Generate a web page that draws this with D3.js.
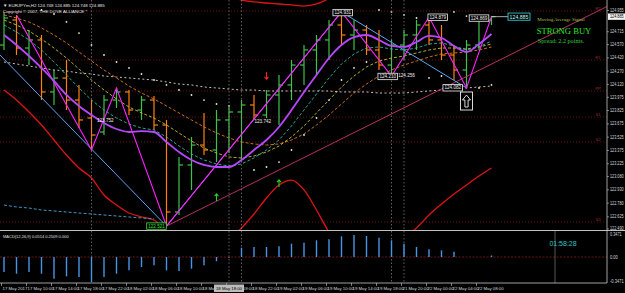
<!DOCTYPE html>
<meta charset="utf-8">
<style>

body {
  margin: 0;
  background: #000;
}

svg {
  display: block;
}

text {
  font-family: "Liberation Sans", Arial, sans-serif;
}

.sig {
  font-family: "Liberation Serif", "Times New Roman", serif;
}

</style>
<body>
<script src="https://d3js.org/d3.v7.min.js"></script>
<script>

// EURJPYm H2 bars, 17 May 06:00 .. 22 May 10:00
var opens  = [124.565,124.847,124.531,124.622,124.035,124.192,123.944,123.741,123.583,123.944,
              124.035,123.831,123.944,123.662,122.680,123.211,123.436,123.380,123.719,123.809,
              123.888,123.775,124.001,124.114,124.339,124.509,124.622,124.791,124.678,124.734,
              124.509,124.339,124.565,124.678,124.791,124.622,124.452,124.283,124.565,124.847];
var highs  = [124.938,124.904,124.734,124.678,124.283,124.396,124.114,123.944,124.001,124.080,
              124.057,123.990,123.990,123.719,123.301,123.527,123.797,123.831,123.865,123.944,
              124.001,124.057,124.226,124.396,124.565,124.678,124.847,124.938,124.847,124.791,
              124.734,124.622,124.734,124.847,124.881,124.791,124.565,124.622,124.870,124.893];
var lows   = [124.509,124.452,124.339,123.944,123.888,123.831,123.628,123.380,123.549,123.854,
              123.775,123.719,123.606,122.521,122.646,122.929,123.323,123.244,123.346,123.267,
              123.719,123.741,123.662,123.944,124.114,124.226,124.396,124.565,124.509,124.452,
              124.283,124.215,124.396,124.509,124.565,124.396,124.170,124.080,124.509,124.791];
var closes = [124.870,124.531,124.622,124.035,124.192,123.944,123.719,123.549,123.944,124.035,
              123.831,123.944,123.662,122.680,123.211,123.436,123.380,123.719,123.809,123.888,
              123.775,124.001,124.114,124.339,124.509,124.622,124.791,124.678,124.734,124.509,
              124.339,124.565,124.678,124.791,124.622,124.452,124.283,124.565,124.847,124.885];

// moving averages
var maPurple = [124.678,124.565,124.441,124.306,124.159,124.001,123.877,123.775,123.685,123.617,
                123.583,123.594,123.583,123.470,123.357,123.267,123.211,123.188,123.188,123.267,
                123.380,123.493,123.640,123.831,124.035,124.226,124.418,124.565,124.655,124.678,
                124.622,124.554,124.543,124.599,124.667,124.644,124.554,124.486,124.576,124.689];
var maTeal   = [124.791,124.712,124.622,124.509,124.373,124.226,124.080,123.944,123.831,123.741,
                123.673,123.628,123.606,123.527,123.425,123.335,123.267,123.222,123.199,123.222,
                123.290,123.380,123.493,123.651,123.831,124.012,124.193,124.351,124.464,124.531,
                124.543,124.520,124.509,124.531,124.576,124.588,124.554,124.509,124.543,124.610];
var maYellow = [124.847,124.791,124.723,124.633,124.531,124.418,124.294,124.170,124.057,123.956,
                123.865,123.798,123.741,123.662,123.572,123.481,123.402,123.346,123.301,123.290,
                123.312,123.357,123.425,123.527,123.651,123.798,123.944,124.091,124.215,124.317,
                124.384,124.418,124.441,124.475,124.509,124.531,124.531,124.520,124.543,124.576];
var maOrange = [124.904,124.870,124.825,124.757,124.678,124.588,124.486,124.384,124.283,124.193,
                124.102,124.023,123.956,123.877,123.798,123.719,123.640,123.572,123.515,123.470,
                123.448,123.436,123.448,123.493,123.560,123.662,123.775,123.899,124.023,124.125,
                124.215,124.283,124.339,124.384,124.430,124.464,124.475,124.486,124.509,124.543];
var maLong   = [124.373,124.351,124.328,124.306,124.283,124.272,124.249,124.238,124.215,124.204,
                124.193,124.181,124.170,124.148,124.125,124.114,124.091,124.080,124.068,124.057,
                124.057,124.046,124.046,124.046,124.046,124.046,124.046,124.035,124.035,124.035,
                124.023,124.023,124.023,124.035,124.046,124.057,124.068,124.080,124.091,124.102];

// envelope pieces [bar, price]
var bandLowLeft  = [[0,124.057],[1,123.944],[2,123.809],[3,123.662],[4,123.493],[5,123.323],[6,123.177],
                    [7,123.064],[8,122.872],[9,122.759],[10,122.669],[11,122.624],[12,122.590],[13,122.455]];
var bandLowMid   = [[18,122.364],[19,122.500],[20,122.658],[21,122.838],[22,122.985],[23,123.041],
                    [24,122.929],[25,122.703],[26,122.455],[27,122.308]];
var bandLowRight = [[32,122.387],[33,122.500],[34,122.646],[35,122.770],[36,122.884],[37,122.985],
                    [38,123.086],[39,123.177]];
var bandUpper    = [[18,125.110],[19,125.073],[20,125.051],[21,125.039],[22,125.028],[23,125.017],
                    [24,125.005],[25,125.028],[26,125.090]];
var envBlue      = [[0,122.759],[1,122.737],[2,122.725],[3,122.703],[4,122.692],[5,122.680],[6,122.669],
                    [7,122.658],[8,122.646],[9,122.635],[10,122.624],[11,122.613],[12,122.601]];

// parabolic SAR
var sarBars   = [3,4,5,6,7,8,9,10,11,12,13,14,15,16,17,18,
                 20,21,22,23,24,25,26,27,28,29,30,31,32,33,34,35,36,37,38,39];
var sarPrices = [124.960,124.915,124.825,124.700,124.565,124.452,124.373,124.306,124.238,124.170,
                 124.114,124.057,124.001,123.944,123.899,123.877,
                 123.154,123.188,123.244,123.380,123.549,123.741,123.944,124.170,124.306,124.373,
                 124.960,124.938,124.904,124.870,124.193,124.215,124.938,124.892,124.080,124.114];

// zigzag and trend lines
var zigzag = [[1,124.904],[7,123.380],[9,124.080],[13,122.521],[27,124.938],[31,124.215],
              [34,124.881],[37,124.080],[39,124.885]];
var blueLines = [
  [[-0.32,124.452],[13,122.521]],
  [[13,122.521],[27,124.938]],
  [[27,124.938],[37,124.080]]
];
var pinkRay = [[13,122.521],[22,123.154]];

// pivot levels
var pivotNames  = ["R2","R1","PP","S1","S2","S3"];
var pivotPrices = [124.949,124.396,124.046,123.752,123.470,122.567];

var markerBars = [7,18,19,31,32];

// MACD(12,26,9) histogram
var macdValues = [-0.200,-0.223,-0.200,-0.223,-0.290,-0.258,-0.267,-0.334,-0.267,-0.223,
                  -0.178,-0.134,-0.111,-0.178,-0.187,-0.156,-0.111,-0.057,-0.010,0.124,
                  0.134,0.134,0.143,0.178,0.191,0.223,0.236,0.276,0.294,0.280,
                  0.258,0.223,0.178,0.134,0.103,0.089,0.071,0.000,0.000,0.020];

var priceTicks = [124.955,124.715,124.570,124.420,124.270,124.120,123.975,123.825,123.675,
                  123.525,123.375,123.225,123.080,122.930,122.780,122.625,122.490];
var macdTicks  = [0.3471, 0, -0.3471];
var macdTickText = ["0.3471", "0.00", "-0.3471"];
var timeBars   = [0,2,4,6,8,10,12,14,16,18,20,22,24,26,28,30,32,34,36,38];
var timeLabels = ["17 May 2017","17 May 10:00","17 May 14:00","17 May 18:00","17 May 22:00",
                  "18 May 02:00","18 May 06:00","18 May 10:00","18 May 14:00","18 May 18:00",
                  "18 May 22:00","19 May 02:00","19 May 06:00","19 May 10:00","19 May 14:00",
                  "19 May 18:00","21 May 20:00","22 May 00:00","22 May 04:00","22 May 08:00"];

var priceLabels = [
  {bar: 27.1, price: 124.931, text: "124.931", kind: "box"},
  {bar: 34.7, price: 124.879, text: "124.879", kind: "box"},
  {bar: 38.0, price: 124.869, text: "124.869", kind: "box"},
  {bar: 30.7, price: 124.210, text: "124.210", kind: "box"},
  {bar: 35.9, price: 124.082, text: "124.082", kind: "box"},
  {bar: 12.2, price: 122.521, text: "122.521", kind: "green"},
  {bar: 8.1,  price: 123.752, text: "123.752", kind: "plain"},
  {bar: 20.7, price: 123.742, text: "123.742", kind: "plain"},
  {bar: 32.2, price: 124.256, text: "124.256", kind: "plain"}
];
var currentPrice = 124.885;

var downArrows = [[21,124.215]];
var upArrows   = [[17,122.849],[22,123.008]];
var buyBox     = [37,123.933];

var width = 625, height = 293,
    axisX = 607, mainBottom = 230, macdTop = 231, macdBottom = 283;

var svg = d3.select("body").append("svg")
    .attr("width", width)
    .attr("height", height)
    .style("background", "#000");

var x = d3.scaleLinear().domain([0, 39]).range([4, 491.5]);
var y = d3.scaleLinear().domain([122.477, 125.073]).range([mainBottom, 0]);
var ym = d3.scaleLinear().domain([-0.3471, 0.3471]).range([macdBottom, macdTop]);

svg.append("defs").append("clipPath").attr("id", "clipMain")
  .append("rect").attr("x", 0).attr("y", 0).attr("width", axisX).attr("height", mainBottom);

var main = svg.append("g").attr("clip-path", "url(#clipMain)");

var pairLine = d3.line().x(function(d) { return x(d[0]) }).y(function(d) { return y(d[1]) });
var seriesLine = d3.line().x(function(d, i) { return x(i) }).y(function(d) { return y(d) });

// axis text squeezed into the narrow scale strip, like the terminal does
function axisText(sel) {
  sel.attr("font-size", 4.5)
     .attr("textLength", function() { return this.textContent.length * 1.95 })
     .attr("lengthAdjust", "spacingAndGlyphs");
}

// pivot dotted lines
main.selectAll(".pivot")
    .data(pivotPrices)
  .enter().append("line")
    .attr("x1", 0).attr("x2", axisX)
    .attr("y1", function(d) { return y(d) }).attr("y2", function(d) { return y(d) })
    .attr("stroke", "#7a1818").attr("stroke-width", 0.8).attr("stroke-dasharray", "1,2");

svg.selectAll(".pivotName")
    .data(pivotPrices)
  .enter().append("text")
    .attr("x", 598).attr("y", function(d) { return y(d) - 1 })
    .attr("text-anchor", "middle")
    .attr("font-size", 4.2)
    .attr("fill", "#a02828")
    .text(function(d, i) { return pivotNames[i] });

// vertical marker lines
svg.selectAll(".vmark")
    .data(markerBars)
  .enter().append("line")
    .attr("x1", function(d) { return x(d) }).attr("x2", function(d) { return x(d) })
    .attr("y1", 0).attr("y2", macdBottom)
    .attr("stroke", "#8a8a8a").attr("stroke-width", 0.7).attr("stroke-dasharray", "1.5,2");

// OHLC bars
var bars = main.selectAll(".bar")
    .data(closes)
  .enter().append("g")
    .attr("stroke", function(d, i) { return d >= opens[i] ? "#3fc24a" : "#ff8010" })
    .attr("stroke-width", 1.2);
bars.append("line")
    .attr("x1", function(d, i) { return x(i) }).attr("x2", function(d, i) { return x(i) })
    .attr("y1", function(d, i) { return y(highs[i]) }).attr("y2", function(d, i) { return y(lows[i]) });
bars.append("line")
    .attr("x1", function(d, i) { return x(i) - 4 }).attr("x2", function(d, i) { return x(i) })
    .attr("y1", function(d, i) { return y(opens[i]) }).attr("y2", function(d, i) { return y(opens[i]) });
bars.append("line")
    .attr("x1", function(d, i) { return x(i) }).attr("x2", function(d, i) { return x(i) + 4 })
    .attr("y1", function(d) { return y(d) }).attr("y2", function(d) { return y(d) });

// moving averages
main.append("path").datum(maLong).attr("d", seriesLine)
    .attr("fill", "none").attr("stroke", "#d8d8d8").attr("stroke-width", 0.9).attr("stroke-dasharray", "2,2.5");
main.append("path").datum(maOrange).attr("d", seriesLine)
    .attr("fill", "none").attr("stroke", "#e07a20").attr("stroke-width", 0.9).attr("stroke-dasharray", "3,2");
main.append("path").datum(maYellow).attr("d", seriesLine)
    .attr("fill", "none").attr("stroke", "#c8c030").attr("stroke-width", 0.9).attr("stroke-dasharray", "3,2");
main.append("path").datum(maTeal).attr("d", seriesLine)
    .attr("fill", "none").attr("stroke", "#2bb8a0").attr("stroke-width", 0.9).attr("stroke-dasharray", "3,2");

// envelope bands
[bandLowLeft, bandLowMid, bandLowRight, bandUpper].forEach(function(seg) {
  main.append("path").datum(seg).attr("d", pairLine.curve(d3.curveMonotoneX))
      .attr("fill", "none").attr("stroke", "#e01414").attr("stroke-width", 1.3);
});
pairLine.curve(d3.curveLinear);
main.append("path").datum(envBlue).attr("d", pairLine)
    .attr("fill", "none").attr("stroke", "#4aa6d6").attr("stroke-width", 0.9).attr("stroke-dasharray", "3,2");

// trend ray from the low
var slope = (y(pinkRay[1][1]) - y(pinkRay[0][1])) / (x(pinkRay[1][0]) - x(pinkRay[0][0]));
main.append("line")
    .attr("x1", x(pinkRay[0][0])).attr("y1", y(pinkRay[0][1]))
    .attr("x2", axisX).attr("y2", y(pinkRay[0][1]) + slope * (axisX - x(pinkRay[0][0])))
    .attr("stroke", "#c8386e").attr("stroke-width", 0.9);

main.selectAll(".blue")
    .data(blueLines)
  .enter().append("path")
    .attr("d", pairLine)
    .attr("fill", "none").attr("stroke", "#5ea4f2").attr("stroke-width", 1);

main.append("path").datum(zigzag).attr("d", pairLine)
    .attr("fill", "none").attr("stroke", "#ff22ff").attr("stroke-width", 1.1);

main.append("path").datum(maPurple).attr("d", seriesLine.curve(d3.curveMonotoneX))
    .attr("fill", "none").attr("stroke", "#b848ff").attr("stroke-width", 1.8);

// SAR dots
main.selectAll(".sar")
    .data(sarPrices)
  .enter().append("circle")
    .attr("cx", function(d, i) { return x(sarBars[i]) })
    .attr("cy", function(d) { return y(d) })
    .attr("r", 0.9)
    .attr("fill", "#ecebc8");

// arrows
main.selectAll(".dn")
    .data(downArrows)
  .enter().append("path")
    .attr("d", function(d) { var cx = x(d[0]), cy = y(d[1]);
      return "M" + cx + "," + (cy - 4) + "V" + (cy + 3) + "M" + (cx - 2) + "," + (cy + 0.8) + "L" + cx + "," + (cy + 3.2) + "L" + (cx + 2) + "," + (cy + 0.8); })
    .attr("fill", "none").attr("stroke", "#ff2020").attr("stroke-width", 1.1);
main.selectAll(".up")
    .data(upArrows)
  .enter().append("path")
    .attr("d", function(d) { var cx = x(d[0]), cy = y(d[1]);
      return "M" + cx + "," + (cy + 4) + "V" + (cy - 3) + "M" + (cx - 2) + "," + (cy - 0.8) + "L" + cx + "," + (cy - 3.2) + "L" + (cx + 2) + "," + (cy - 0.8); })
    .attr("fill", "none").attr("stroke", "#22d622").attr("stroke-width", 1.1);

var bx = x(buyBox[0]), by = y(buyBox[1]);
main.append("rect").attr("x", bx - 6).attr("y", by - 9).attr("width", 12).attr("height", 18)
    .attr("fill", "#000").attr("stroke", "#f0f0f0").attr("stroke-width", 0.9);
main.append("path")
    .attr("d", "M" + bx + "," + (by - 6) + "L" + (bx + 4) + "," + (by - 1) + "L" + (bx + 1.6) + "," + (by - 1) +
               "L" + (bx + 1.6) + "," + (by + 6) + "L" + (bx - 1.6) + "," + (by + 6) + "L" + (bx - 1.6) + "," + (by - 1) +
               "L" + (bx - 4) + "," + (by - 1) + "Z")
    .attr("fill", "none").attr("stroke", "#f0f0f0").attr("stroke-width", 0.9);

// price labels
priceLabels.forEach(function(d) {
  var cx = x(d.bar), cy = y(d.price) + (d.kind === "plain" ? 3.5 : 0);
  var col = d.kind === "green" ? "#3ce03c" : "#f0f0f0";
  var rect = svg.append("rect");
  var t = svg.append("text")
      .attr("x", cx).attr("y", cy)
      .attr("text-anchor", "middle").attr("dominant-baseline", "central")
      .attr("font-size", 4.6).attr("fill", col)
      .text(d.text);
  if (d.kind !== "plain") {
    var w = t.node().getComputedTextLength() + 3;
    rect.attr("x", cx - w / 2).attr("y", cy - 3.2).attr("width", w).attr("height", 6.4)
        .attr("fill", "#000").attr("stroke", col).attr("stroke-width", 0.8);
  }
});

// current price
var cpY = y(currentPrice);
svg.append("line").attr("x1", x(39)).attr("x2", 508).attr("y1", cpY).attr("y2", cpY)
    .attr("stroke", "#d0d0d0").attr("stroke-width", 0.8);
svg.append("rect").attr("x", 508).attr("y", cpY - 3.6).attr("width", 22).attr("height", 7.2)
    .attr("fill", "#000").attr("stroke", "#2cc8c8").attr("stroke-width", 0.9);
svg.append("text").attr("x", 519).attr("y", cpY).attr("text-anchor", "middle")
    .attr("dominant-baseline", "central").attr("font-size", 5.2).attr("fill", "#bff6f6")
    .text(d3.format(".3f")(currentPrice));

// signal panel
svg.append("text").attr("class", "sig").attr("x", 561).attr("y", 20.5).attr("text-anchor", "middle")
    .attr("font-size", 5).attr("fill", "#a6c448").text("Moving Average Signal");
svg.append("text").attr("class", "sig").attr("x", 564).attr("y", 33.5).attr("text-anchor", "middle")
    .attr("font-size", 8.6).attr("fill", "#26e626").text("STRONG BUY");
svg.append("text").attr("class", "sig").attr("x", 561).attr("y", 42.5).attr("text-anchor", "middle")
    .attr("font-size", 6.2).attr("fill", "#2fd42f").text("Spread: 2.2 points.");

// header
svg.append("text").attr("x", 3).attr("y", 6.5).attr("font-size", 4.4).attr("fill", "#e8e8e8")
    .text("\u25BC EURJPYm,H2  124.748 124.885 124.748 124.885");
svg.append("text").attr("x", 3).attr("y", 12.5).attr("font-size", 4.4).attr("fill", "#e8e8e8")
    .text("Copyright \u00A9 2007, THE DOVE ALLIANCE *");

// MACD pane
svg.append("line").attr("x1", 0).attr("x2", axisX).attr("y1", ym(0)).attr("y2", ym(0))
    .attr("stroke", "#8a1a1a").attr("stroke-width", 0.8).attr("stroke-dasharray", "2,1.5");
svg.selectAll(".macd")
    .data(macdValues)
  .enter().append("line")
    .attr("x1", function(d, i) { return x(i) }).attr("x2", function(d, i) { return x(i) })
    .attr("y1", ym(0)).attr("y2", function(d) { return ym(d) })
    .attr("stroke", "#4a94e6").attr("stroke-width", 1.4);
svg.append("line").attr("x1", 555).attr("x2", 555).attr("y1", macdTop).attr("y2", macdBottom)
    .attr("stroke", "#6a6a6a").attr("stroke-width", 0.8);
svg.append("text").attr("x", 3).attr("y", 238).attr("font-size", 4).attr("fill", "#e0e0e0")
    .text("MACD(12,26,9) 0.0514 0.2509 0.000");
svg.append("text").attr("x", 563).attr("y", 245.5).attr("text-anchor", "middle")
    .attr("font-size", 7).attr("fill", "#33c4c4").text("01:58:28");

// frame
svg.append("line").attr("x1", axisX).attr("x2", axisX).attr("y1", 0).attr("y2", macdBottom)
    .attr("stroke", "#c8c8c8").attr("stroke-width", 0.8);
svg.append("line").attr("x1", 0).attr("x2", width).attr("y1", macdTop - 0.5).attr("y2", macdTop - 0.5)
    .attr("stroke", "#d8d8d8").attr("stroke-width", 0.9);
svg.append("line").attr("x1", 0).attr("x2", axisX).attr("y1", macdBottom).attr("y2", macdBottom)
    .attr("stroke", "#c8c8c8").attr("stroke-width", 0.8);

// price axis
svg.selectAll(".ptick")
    .data(priceTicks)
  .enter().append("text")
    .attr("x", 610).attr("y", function(d) { return y(d) })
    .attr("dominant-baseline", "central")
    .attr("fill", "#d8d8d8")
    .text(function(d) { return d3.format(".3f")(d) })
    .call(axisText);
svg.selectAll(".ptickmark")
    .data(priceTicks)
  .enter().append("line")
    .attr("x1", axisX).attr("x2", axisX + 2)
    .attr("y1", function(d) { return y(d) }).attr("y2", function(d) { return y(d) })
    .attr("stroke", "#c8c8c8").attr("stroke-width", 0.6);
svg.append("rect").attr("x", 608).attr("y", cpY - 3.2).attr("width", 17).attr("height", 6.4).attr("fill", "#f4f4f4");
svg.append("text").attr("x", 610).attr("y", cpY).attr("dominant-baseline", "central")
    .attr("fill", "#000").text(d3.format(".3f")(currentPrice))
    .call(axisText);

svg.selectAll(".mtick")
    .data(macdTicks)
  .enter().append("text")
    .attr("x", 610).attr("y", function(d, i) { return ym(d) + (i === 0 ? 3 : i === 2 ? -1.5 : 0) })
    .attr("dominant-baseline", "central")
    .attr("fill", "#d8d8d8")
    .text(function(d, i) { return macdTickText[i] })
    .call(axisText);

// time axis
svg.selectAll(".tlab")
    .data(timeBars)
  .enter().append("text")
    .attr("x", function(d) { return x(d) - 1.5 })
    .attr("y", 290)
    .attr("font-size", 4.3).attr("fill", "#d8d8d8")
    .text(function(d, i) { return timeLabels[i] });
svg.selectAll(".ttick")
    .data(timeBars)
  .enter().append("line")
    .attr("x1", function(d) { return x(d) - 2.5 }).attr("x2", function(d) { return x(d) - 2.5 })
    .attr("y1", macdBottom).attr("y2", macdBottom + 3)
    .attr("stroke", "#c8c8c8").attr("stroke-width", 0.6);
svg.append("rect").attr("x", x(18) - 15).attr("y", 284.5).attr("width", 30).attr("height", 7.5).attr("fill", "#bcbcbc");
svg.append("text").attr("x", x(18)).attr("y", 290).attr("text-anchor", "middle")
    .attr("font-size", 4.3).attr("fill", "#000").text(timeLabels[9]);

</script>
